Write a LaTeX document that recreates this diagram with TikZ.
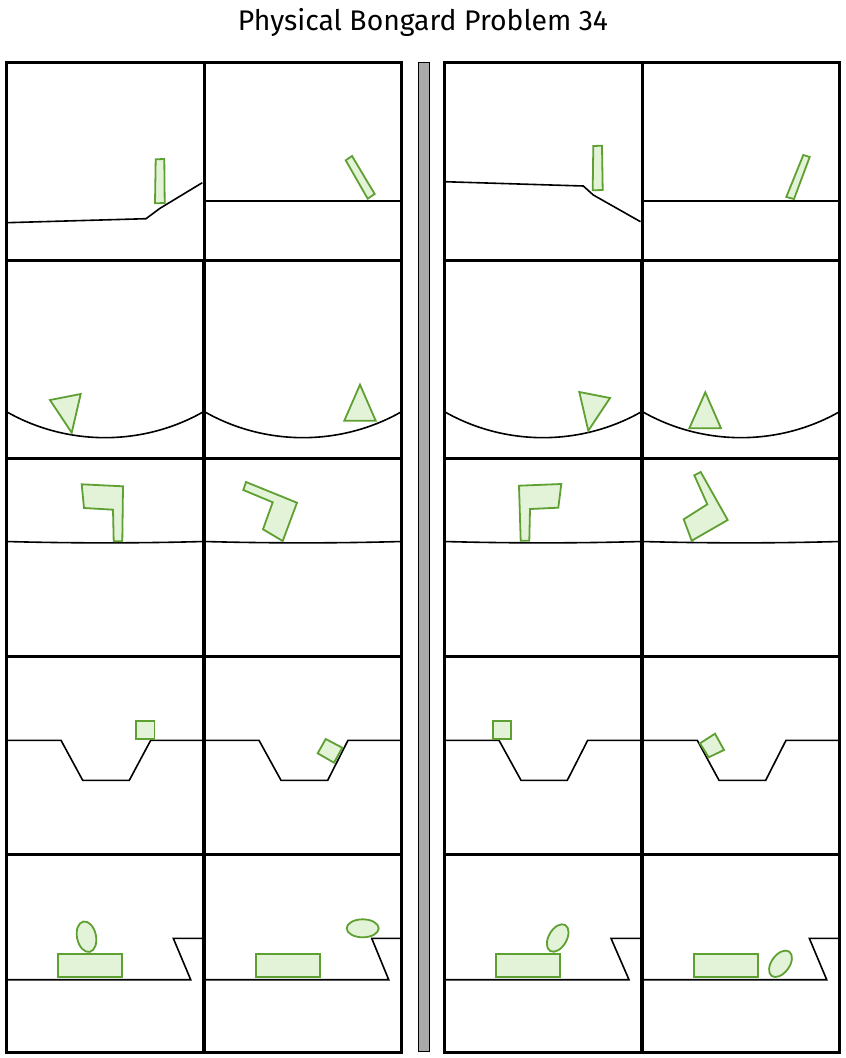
\documentclass[tikz,border=0pt]{standalone}
\usepackage{fontspec}
\setmainfont{Fira Sans}
\definecolor{bodyline}{RGB}{95,160,50}
\definecolor{bodyfill}{RGB}{227,243,215}
\definecolor{barfill}{RGB}{170,170,170}
\begin{document}
\begin{tikzpicture}[x=1pt,y=-1pt,
  cell/.style={draw=black,line width=3pt,line cap=rect},
  thinedge/.style={draw=black,line width=1pt},
  ground/.style={draw=black,line width=1.6pt,line join=miter},
  body/.style={draw=bodyline,fill=bodyfill,line width=1.8pt,line join=miter}]
\useasboundingbox (0,0) rectangle (846,1058);
\fill[white] (0,0) rectangle (846,1058);
\node (title) at (423,22) {\resizebox{370pt}{!}{Physical Bongard Problem 34}};
% gray separator bar
\draw[fill=barfill,line width=1pt] (418.5,62.5) rectangle (429.5,1051.5);
% cell frames
\foreach \y in {260,458,656,854} {
  \draw[cell] (6.5,\y) rectangle (203,\y+198);
  \draw[cell] (204.5,\y) rectangle (401.5,\y+198);
  \draw[cell] (444.5,\y) rectangle (641,\y+198);
  \draw[cell] (642.5,\y) rectangle (839.5,\y+198);
}
\draw[cell] (203,62) -- (6.5,62) -- (6.5,260) -- (203,260);
\draw[thinedge] (203,62) -- (203,260);
\draw[cell] (204.5,62) rectangle (401.5,260);
\draw[cell] (641,62) -- (444.5,62) -- (444.5,260) -- (641,260);
\draw[thinedge] (641,62) -- (641,260);
\draw[cell] (642.5,62) rectangle (839.5,260);
% ---------- row 1 ----------
\draw[ground] (6.5,222.7) -- (146,218.7) -- (160,208.3) -- (202.3,182.7);
\draw[body] (155.7,159.3) -- (164.3,159) -- (164.7,203) -- (155,203.3) -- cycle;
\draw[ground] (204.5,200.7) -- (401.5,200.7);
\draw[body] (345.7,160.3) -- (352,156) -- (374.7,194) -- (367.7,198.7) -- cycle;
\draw[ground] (444.5,181.7) -- (583.3,186) -- (593.3,195) -- (640.5,221.7);
\draw[body] (593.3,146) -- (602,145.7) -- (602.7,190) -- (592.7,190.3) -- cycle;
\draw[ground] (642.5,200.7) -- (839.5,200.7);
\draw[body] (803.3,155) -- (809.7,157) -- (794,199) -- (786.3,197) -- cycle;
% ---------- row 2 ----------
\foreach \a in {6.5,204.5,444.5,642.5}
  \draw[ground] (\a,411.7) .. controls (\a+60.7,446.3) and (\a+136.3,446.3) .. (\a+197,411.7);
\draw[body] (50,400) -- (80.7,394) -- (71.7,432.7) -- cycle;
\draw[body] (360,384.7) -- (375.7,420.7) -- (344.3,420.7) -- cycle;
\draw[body] (579.3,392) -- (610,398) -- (588.3,430.7) -- cycle;
\draw[body] (705.3,392.3) -- (721,428.3) -- (689.3,428.3) -- cycle;
% ---------- row 3 ----------
\foreach \a in {6.5,204.5,444.5,642.5}
  \draw[ground] (\a,541.5) .. controls (\a+65,543.3) and (\a+132,543.3) .. (\a+197,541.5);
\draw[body] (81.7,484.3) -- (123,486.3) -- (122.3,541.3) -- (113.7,541.3) -- (113,509.7) -- (84,508) -- cycle;
\draw[body] (246,482) -- (297,502.7) -- (282.7,541) -- (263,529.3) -- (272.7,502.3) -- (243.3,490) -- cycle;
\draw[body] (519,485.7) -- (561.3,484) -- (558.3,507.7) -- (530,509) -- (529.3,540.7) -- (520.7,540.7) -- cycle;
\draw[body] (694.3,475.3) -- (700.7,472) -- (727.7,520) -- (691.7,540.7) -- (683.7,519.3) -- (707.3,504.3) -- cycle;
% ---------- row 4 ----------
\draw[ground] (6.5,740.3) -- (61,740.3) -- (82.7,780.3) -- (129.3,780.3) -- (150.7,740.3) -- (203,740.3);
\draw[body] (136,720.7) rectangle (154.5,738.8);
\draw[ground] (204.5,740.3) -- (259,740.3) -- (281,780.3) -- (327.7,780.3) -- (348,740.3) -- (401.5,740.3);
\draw[body] (317.7,753.3) -- (325.7,739) -- (342.3,747.7) -- (334,762.7) -- cycle;
\draw[ground] (444.5,740.3) -- (499,740.3) -- (521,780.3) -- (567.3,780.3) -- (587.7,740.3) -- (641,740.3);
\draw[body] (493.3,720.7) rectangle (511.3,738.8);
\draw[ground] (642.5,740.3) -- (697.3,740.3) -- (719,780.3) -- (765.7,780.3) -- (786,740.3) -- (839.5,740.3);
\draw[body] (700,743.3) -- (715,733.7) -- (724,750) -- (708.7,757.3) -- cycle;
% ---------- row 5 ----------
\draw[ground] (6.5,979.7) -- (190.7,979.7) -- (173.3,938.3) -- (203,938.3);
\draw[body] (58.3,954) rectangle (121.7,977.3);
\draw[body,rotate around={12:(86.5,936.7)}] (86.5,936.7) ellipse [x radius=9.5, y radius=15.5];
\draw[ground] (204.5,979.7) -- (388.7,979.7) -- (371.7,938.3) -- (401.5,938.3);
\draw[body] (256,954) rectangle (320,977.3);
\draw[body] (362.7,928.3) ellipse [x radius=16, y radius=9];
\draw[ground] (444.5,979.7) -- (629,979.7) -- (611,938.3) -- (641,938.3);
\draw[body] (496,954) rectangle (559.7,977.3);
\draw[body,rotate around={-30:(557.7,938)}] (557.7,938) ellipse [x radius=9, y radius=15];
\draw[ground] (642.5,979.7) -- (826.7,979.7) -- (809.3,938.3) -- (839.5,938.3);
\draw[body] (694,954) rectangle (758,977.3);
\draw[body,rotate around={-36:(780.5,963.8)}] (780.5,963.8) ellipse [x radius=9, y radius=15];
\end{tikzpicture}
\end{document}
